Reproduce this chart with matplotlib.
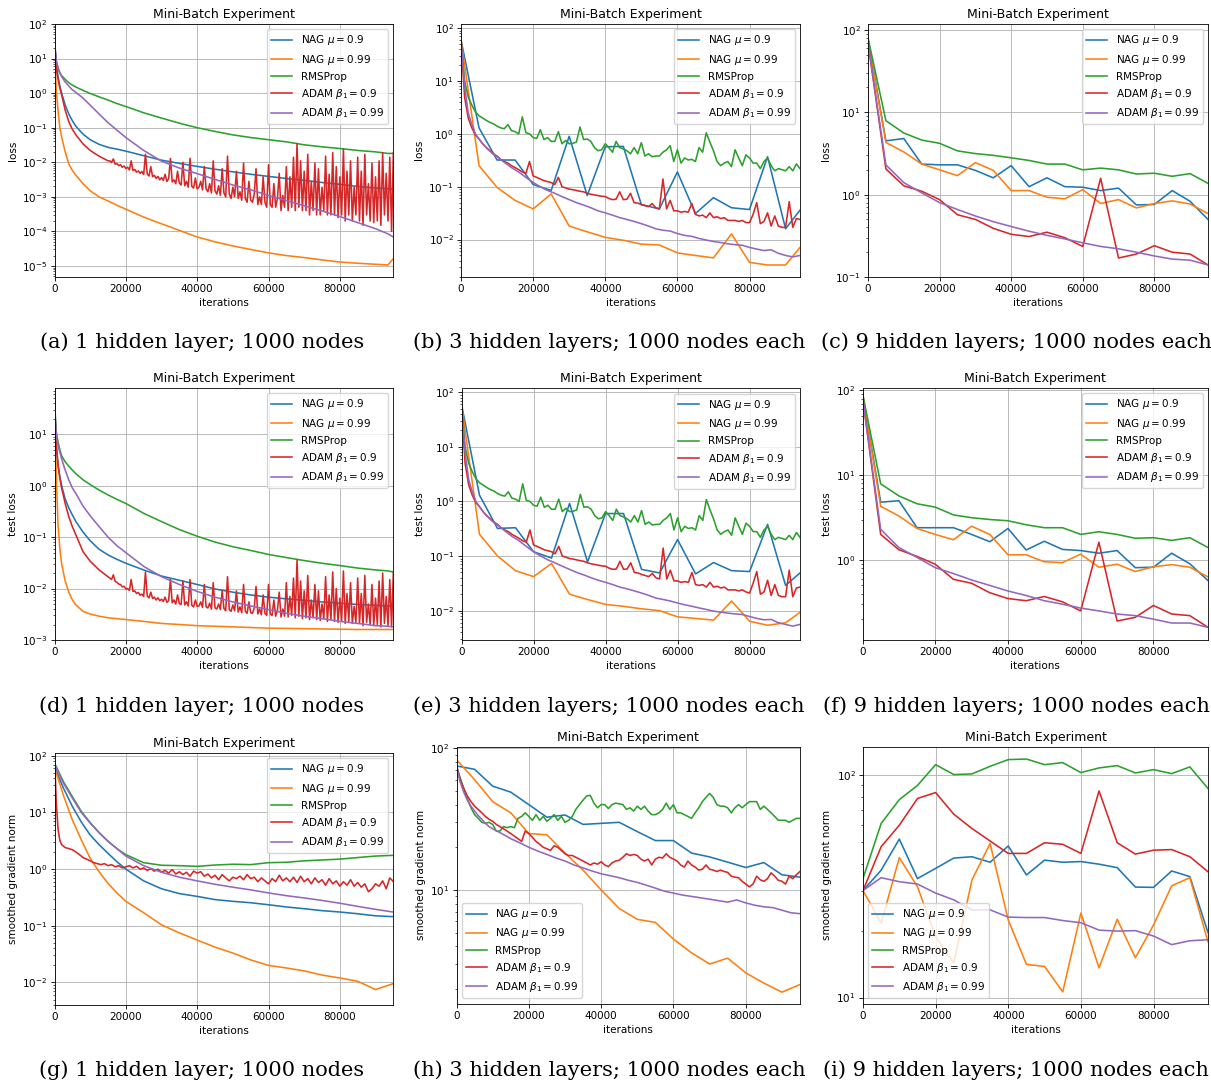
import numpy as np
import matplotlib
matplotlib.use('Agg')
import matplotlib.pyplot as plt

# ---------------- data ----------------
LABELS = [r'NAG $\mu=0.9$', r'NAG $\mu=0.99$', 'RMSProp', r'ADAM $\beta_1=0.9$', r'ADAM $\beta_1=0.99$']
COLORS = ['#1f77b4', '#ff7f0e', '#2ca02c', '#d62728', '#9467bd']

CAPTIONS = ['(a) 1 hidden layer; 1000 nodes', '(b) 3 hidden layers; 1000 nodes each',
            '(c) 9 hidden layers; 1000 nodes each',
            '(d) 1 hidden layer; 1000 nodes', '(e) 3 hidden layers; 1000 nodes each',
            '(f) 9 hidden layers; 1000 nodes each',
            '(g) 1 hidden layer; 1000 nodes', '(h) 3 hidden layers; 1000 nodes each',
            '(i) 9 hidden layers; 1000 nodes each']

# ---- (a) 1 hidden layer, training loss
A_X = [0, 250, 500, 1000, 1500, 2000, 3000, 4000, 5000, 6000, 8000, 10000, 12500, 15000, 17500,
       20000, 25000, 30000, 35000, 40000, 45000, 50000, 55000, 60000, 65000, 70000, 75000, 80000,
       85000, 90000, 93500, 94900]
A_NAG9 = [40, 15, 7, 3, 1.6, 1.0, 0.45, 0.25, 0.16, 0.11, 0.065, 0.045, 0.033, 0.027, 0.024, 0.021,
          0.0155, 0.0115, 0.0093, 0.0076, 0.0063, 0.0053, 0.0045, 0.0039, 0.0034, 0.003, 0.0026,
          0.0023, 0.002, 0.0018, 0.00172, 0.0017]
A_NAG99 = [40, 5, 1.2, 0.3, 0.1, 0.054, 0.02, 0.009, 0.0058, 0.0042, 0.0024, 0.0015, 0.001, 0.00076,
           0.00057, 0.00044, 0.00026, 0.000166, 0.000107, 6.9e-5, 5.0e-5, 3.8e-5, 3.0e-5, 2.4e-5,
           2.0e-5, 1.75e-5, 1.5e-5, 1.3e-5, 1.2e-5, 1.12e-5, 1.07e-5, 1.6e-5]
A_RMS = [40, 15, 8, 5, 3.8, 3.2, 2.5, 2.0, 1.7, 1.5, 1.2, 0.98, 0.78, 0.63, 0.5, 0.41, 0.27, 0.19,
         0.135, 0.1, 0.078, 0.062, 0.052, 0.045, 0.039, 0.032, 0.028, 0.025, 0.022, 0.02, 0.018, 0.018]
A_ADAM99 = [40, 15, 9, 5.5, 4.0, 3.0, 2.1, 1.6, 1.25, 1.05, 0.72, 0.45, 0.25, 0.14, 0.085, 0.052,
            0.022, 0.0108, 0.0068, 0.0047, 0.0032, 0.0022, 0.0016, 0.0011, 0.00078, 0.00055, 0.00039,
            0.00027, 0.00018, 0.00012, 8.5e-5, 7e-5]
A_ADAM9_X0 = [0, 250, 500, 1000, 1500, 2000, 3000, 4000, 5000, 6000, 8000, 10000, 12500, 15000]
A_ADAM9_Y0 = [40, 12, 5, 2.5, 1.4, 0.9, 0.32, 0.15, 0.09, 0.062, 0.034, 0.022, 0.015, 0.011]
# sampled every 500 iterations from 15500
A_ADAM9_NOISY = [
    0.0110, 0.0098, 0.0125, 0.0088, 0.0092, 0.0080, 0.0085, 0.0072, 0.0078, 0.0066,
    0.0072, 0.0060, 0.0110, 0.0058, 0.0062, 0.0052, 0.0056, 0.0048, 0.0054, 0.0044,
    0.0170, 0.0046, 0.0040, 0.0075, 0.0038, 0.0042, 0.0034, 0.0039, 0.0031, 0.0036,
    0.0030, 0.0045, 0.0028, 0.0033, 0.0130, 0.0027, 0.0031, 0.0024, 0.0055, 0.0025,
    0.0022, 0.0100, 0.0021, 0.0028, 0.0019, 0.0130, 0.0020, 0.0018, 0.0035, 0.0017,
    0.0019, 0.0028, 0.0016, 0.0075, 0.0017, 0.0014, 0.0024, 0.0013, 0.0110, 0.0015,
    0.0012, 0.0021, 0.0011, 0.0065, 0.0013, 0.0010, 0.0150, 0.0012, 0.0009, 0.0019,
    0.0010, 0.0055, 0.0009, 0.0014, 0.0008, 0.0095, 0.0009, 0.0007, 0.0028, 0.0008,
    0.0007, 0.0012, 0.0065, 0.0006, 0.0010, 0.0006, 0.0038, 0.0007, 0.0005, 0.0085,
    0.0006, 0.0005, 0.0024, 0.0005, 0.0009, 0.0048, 0.0004, 0.0011, 0.0005, 0.0075,
    0.0004, 0.0038, 0.0005, 0.0140, 0.0004, 0.0350, 0.0005, 0.0110, 0.0004, 0.0055,
    0.0004, 0.0170, 0.0003, 0.0028, 0.0004, 0.0095, 0.0003, 0.0065, 0.0003, 0.0019,
    0.0004, 0.0150, 0.0003, 0.0045, 0.0003, 0.0190, 0.0003, 0.0075, 0.00025, 0.0038,
    0.0003, 0.0240, 0.0002, 0.0055, 0.0003, 0.0110, 0.0002, 0.0019, 0.0003, 0.0140,
    0.0002, 0.0055, 0.00015, 0.0170, 0.0003, 0.0024, 0.0002, 0.0095, 0.00018, 0.0038,
    0.0002, 0.0110, 0.00015, 0.0190, 0.0003, 0.0048, 0.0002, 0.0140, 0.0001, 0.0190]

# ---- (d) 1 hidden layer, test loss
D_X = A_X
D_NAG9 = [60, 15, 6, 2.5, 1.5, 1.0, 0.55, 0.37, 0.27, 0.2, 0.125, 0.085, 0.058, 0.045, 0.037, 0.031,
          0.023, 0.0175, 0.0145, 0.012, 0.0098, 0.0085, 0.0075, 0.0068, 0.0063, 0.0059, 0.0055,
          0.0052, 0.0049, 0.0047, 0.0046, 0.0045]
D_NAG99 = [60, 8, 1.5, 0.17, 0.06, 0.03, 0.014, 0.0085, 0.006, 0.0048, 0.0036, 0.0032, 0.0029,
           0.0027, 0.0026, 0.0025, 0.0023, 0.0021, 0.002, 0.0019, 0.00185, 0.0018, 0.00175, 0.0017,
           0.00168, 0.00166, 0.00164, 0.00162, 0.0016, 0.0016, 0.0016, 0.0016]
D_RMS = [60, 20, 11, 7, 5, 3.8, 2.9, 2.4, 2.0, 1.7, 1.3, 1.05, 0.82, 0.66, 0.54, 0.45, 0.29, 0.2,
         0.14, 0.104, 0.08, 0.065, 0.055, 0.046, 0.04, 0.035, 0.031, 0.028, 0.025, 0.023, 0.022, 0.021]
D_ADAM99 = [60, 20, 10, 6, 4.5, 3.3, 2.0, 1.3, 0.9, 0.7, 0.4, 0.26, 0.16, 0.1, 0.068, 0.05, 0.027,
            0.017, 0.012, 0.0088, 0.0068, 0.0055, 0.0046, 0.0039, 0.0033, 0.0029, 0.0026, 0.0023,
            0.0021, 0.0019, 0.00185, 0.0018]
D_ADAM9_X0 = [0, 250, 500, 1000, 1500, 2000, 3000, 4000, 5000, 6000, 8000, 10000, 12500, 15000]
D_ADAM9_Y0 = [60, 15, 6, 2.5, 1.4, 0.9, 0.45, 0.25, 0.16, 0.11, 0.052, 0.034, 0.023, 0.017]
D_ADAM9_NOISY = [
    0.0160, 0.0150, 0.0185, 0.0138, 0.0132, 0.0122, 0.0120, 0.0108, 0.0110, 0.0098,
    0.0100, 0.0092, 0.0150, 0.0088, 0.0090, 0.0080, 0.0084, 0.0074, 0.0078, 0.0070,
    0.0210, 0.0072, 0.0066, 0.0085, 0.0064, 0.0068, 0.0060, 0.0066, 0.0058, 0.0062,
    0.0056, 0.0068, 0.0054, 0.0058, 0.0150, 0.0053, 0.0060, 0.0050, 0.0075, 0.0051,
    0.0049, 0.0140, 0.0048, 0.0055, 0.0046, 0.0150, 0.0047, 0.0044, 0.0060, 0.0045,
    0.0046, 0.0055, 0.0043, 0.0120, 0.0044, 0.0042, 0.0052, 0.0040, 0.0130, 0.0042,
    0.0040, 0.0050, 0.0039, 0.0090, 0.0041, 0.0037, 0.0170, 0.0039, 0.0036, 0.0048,
    0.0037, 0.0090, 0.0035, 0.0044, 0.0034, 0.0120, 0.0036, 0.0033, 0.0055, 0.0034,
    0.0033, 0.0042, 0.0110, 0.0032, 0.0040, 0.0031, 0.0075, 0.0033, 0.0030, 0.0120,
    0.0032, 0.0030, 0.0060, 0.0029, 0.0038, 0.0085, 0.0028, 0.0040, 0.0029, 0.0130,
    0.0028, 0.0070, 0.0030, 0.0160, 0.0027, 0.0360, 0.0029, 0.0140, 0.0026, 0.0090,
    0.0027, 0.0180, 0.0025, 0.0060, 0.0027, 0.0120, 0.0025, 0.0090, 0.0024, 0.0050,
    0.0026, 0.0170, 0.0023, 0.0075, 0.0025, 0.0210, 0.0023, 0.0100, 0.0022, 0.0065,
    0.0024, 0.0220, 0.0021, 0.0080, 0.0023, 0.0130, 0.0021, 0.0045, 0.0022, 0.0160,
    0.0021, 0.0080, 0.0019, 0.0180, 0.0022, 0.0050, 0.0020, 0.0120, 0.0019, 0.0065,
    0.0020, 0.0140, 0.0018, 0.0200, 0.0021, 0.0070, 0.0019, 0.0150, 0.0018, 0.0210]

# ---- (g) 1 hidden layer, smoothed gradient norm
G_X = [0, 1000, 2500, 5000, 7500, 10000, 12500, 15000, 17500, 20000, 25000, 30000, 35000, 40000,
       45000, 50000, 55000, 60000, 65000, 70000, 75000, 80000, 85000, 90000, 94900]
G_NAG9 = [65, 45, 27, 12.8, 6.8, 4.0, 2.7, 1.9, 1.35, 1.0, 0.62, 0.45, 0.37, 0.33, 0.29, 0.27, 0.255,
          0.235, 0.215, 0.2, 0.185, 0.175, 0.163, 0.15, 0.145]
G_NAG99 = [60, 40, 20, 7.4, 3.3, 1.55, 0.9, 0.56, 0.38, 0.27, 0.17, 0.104, 0.075, 0.056, 0.042, 0.033,
           0.025, 0.02, 0.018, 0.016, 0.0135, 0.012, 0.0105, 0.0075, 0.0095]
G_RMS = [75, 55, 35, 19, 10.5, 6.6, 4.4, 3.1, 2.3, 1.8, 1.3, 1.17, 1.15, 1.12, 1.18, 1.22, 1.2, 1.3,
         1.32, 1.4, 1.45, 1.5, 1.6, 1.7, 1.75]
G_ADAM99 = [70, 52, 33, 18, 10, 6.5, 4.4, 3.1, 2.3, 1.7, 1.15, 0.88, 0.72, 0.62, 0.54, 0.48, 0.43,
            0.38, 0.34, 0.31, 0.28, 0.25, 0.22, 0.195, 0.175]
G_ADAM9_X0 = [0, 250, 500, 1000, 1500, 2000, 3000, 4000]
G_ADAM9_Y0 = [70, 40, 15, 5, 3.2, 2.7, 2.4, 2.3]
# sampled every 1000 iterations from 5000
G_ADAM9_NOISY = [
    2.2, 2.0, 1.8, 1.6, 1.5, 1.4, 1.3, 1.25, 1.2, 1.25,
    1.15, 1.2, 1.1, 1.15, 1.05, 1.1, 1.15, 1.05, 1.12, 1.0,
    1.05, 0.95, 1.02, 0.92, 1.0, 0.88, 0.95, 0.85, 0.98, 0.82,
    0.9, 0.8, 0.88, 0.75, 0.92, 0.85, 0.9, 0.75, 0.82, 0.7,
    0.78, 0.65, 0.8, 0.7, 0.62, 0.72, 0.68, 0.75, 0.65, 0.8,
    0.68, 0.72, 0.6, 0.7, 0.62, 0.55, 0.68, 0.6, 0.78, 0.62,
    0.7, 0.6, 0.72, 0.58, 0.75, 0.6, 0.68, 0.55, 0.7, 0.58,
    0.65, 0.52, 0.68, 0.55, 0.62, 0.5, 0.6, 0.52, 0.65, 0.5,
    0.58, 0.48, 0.55, 0.4, 0.45, 0.55, 0.5, 0.62, 0.45, 0.7, 0.6]

# ---- (b) 3 hidden layers, training loss
B_X5 = [0, 5000, 10000, 15000, 20000, 25000, 30000, 35000, 40000, 45000, 50000, 55000, 60000,
        65000, 70000, 75000, 80000, 85000, 90000, 94000]
B_NAG9 = [60, 1.3, 0.32, 0.32, 0.11, 0.085, 0.9, 0.068, 0.57, 0.58, 0.046, 0.038, 0.19, 0.031,
          0.062, 0.04, 0.037, 0.37, 0.016, 0.036]
B_NAG99 = [60, 0.25, 0.097, 0.055, 0.038, 0.073, 0.018, 0.014, 0.011, 0.0097, 0.0082, 0.0079,
           0.0056, 0.005, 0.0045, 0.0128, 0.0037, 0.0033, 0.0033, 0.0071]
# sampled every 1000 iterations
B_RMS = [60, 10, 5, 3.5, 2.6, 2.2, 2.0, 1.8, 1.65, 1.55,
         1.4, 1.3, 1.25, 1.5, 1.15, 1.1, 1.0, 2.1, 1.05, 1.0,
         0.85, 0.82, 1.2, 0.78, 0.85, 0.72, 0.72, 1.1, 0.65, 0.75,
         0.65, 0.66, 0.7, 1.35, 0.78, 0.8, 0.72, 0.55, 0.48, 0.5,
         0.65, 0.55, 0.45, 0.72, 0.55, 0.52, 0.48, 0.42, 0.55, 0.42,
         0.68, 0.38, 0.42, 0.37, 0.38, 0.38, 0.45, 0.5, 0.6, 0.3,
         0.5, 0.28, 0.35, 0.32, 0.33, 0.3, 0.55, 0.45, 1.05, 0.7,
         0.48, 0.3, 0.25, 0.28, 0.3, 0.24, 0.5, 0.35, 0.25, 0.4,
         0.35, 0.28, 0.28, 0.22, 0.3, 0.35, 0.25, 0.2, 0.22, 0.21,
         0.2, 0.24, 0.2, 0.27, 0.22]
B_ADAM9 = [60, 5, 2.0, 1.3, 0.95, 0.8, 0.65, 0.55, 0.48, 0.42,
           0.38, 0.33, 0.3, 0.28, 0.25, 0.23, 0.21, 0.19, 0.18, 0.3,
           0.16, 0.15, 0.14, 0.13, 0.125, 0.12, 0.11, 0.15, 0.1, 0.095,
           0.09, 0.088, 0.085, 0.082, 0.08, 0.075, 0.072, 0.07, 0.068, 0.066,
           0.065, 0.06, 0.057, 0.058, 0.08, 0.057, 0.058, 0.075, 0.05, 0.049,
           0.046, 0.044, 0.042, 0.048, 0.04, 0.038, 0.14, 0.038, 0.055, 0.035,
           0.035, 0.033, 0.034, 0.033, 0.048, 0.03, 0.028, 0.029, 0.026, 0.032,
           0.026, 0.027, 0.025, 0.026, 0.023, 0.023, 0.023, 0.022, 0.023, 0.021,
           0.021, 0.03, 0.05, 0.02, 0.022, 0.032, 0.018, 0.028, 0.018, 0.017,
           0.017, 0.052, 0.017, 0.025, 0.024]
B_XP = [0, 1000, 2000, 3000, 4000, 5000, 6000, 7000, 8000, 9000, 10000,
        12000, 14000, 16000, 18000, 20000, 22000, 24000, 26000, 28000, 30000,
        32000, 34000, 36000, 38000, 40000, 42000, 44000, 46000, 48000, 50000,
        52000, 54000, 56000, 58000, 60000, 62000, 64000, 66000, 68000, 70000,
        72000, 74000, 76000, 78000, 80000, 82000, 84000, 86000, 88000, 90000, 92000, 94000]
B_ADAM99 = [60, 8, 2.5, 1.5, 1.0, 0.8, 0.65, 0.55, 0.47, 0.41, 0.37,
            0.29, 0.23, 0.19, 0.15, 0.12, 0.1, 0.085, 0.075, 0.065, 0.057,
            0.05, 0.045, 0.04, 0.035, 0.032, 0.029, 0.026, 0.024, 0.022, 0.02,
            0.018, 0.016, 0.015, 0.0145, 0.013, 0.012, 0.0115, 0.0105, 0.0098, 0.0092,
            0.0088, 0.0083, 0.008, 0.0078, 0.0071, 0.0066, 0.0062, 0.0064, 0.0055, 0.005, 0.0047, 0.005]

# ---- (e) 3 hidden layers, test loss
E_X5 = B_X5
E_NAG9 = [60, 1.3, 0.32, 0.33, 0.12, 0.092, 0.92, 0.078, 0.6, 0.6, 0.057, 0.049, 0.2, 0.047, 0.076,
          0.054, 0.052, 0.38, 0.029, 0.049]
E_NAG99 = [60, 0.25, 0.1, 0.054, 0.042, 0.073, 0.02, 0.016, 0.013, 0.012, 0.0108, 0.01, 0.0077,
           0.0072, 0.0067, 0.015, 0.0064, 0.0054, 0.006, 0.0093]
E_RMS = [60, 10, 5, 3.5, 2.6, 2.2, 2.0, 1.8, 1.65, 1.55,
         1.4, 1.3, 1.25, 1.5, 1.15, 1.1, 1.0, 2.1, 1.05, 1.0,
         0.85, 0.82, 1.2, 0.78, 0.85, 0.72, 0.72, 1.1, 0.65, 0.75,
         0.65, 0.66, 0.7, 1.35, 0.78, 0.8, 0.72, 0.55, 0.48, 0.5,
         0.65, 0.55, 0.45, 0.72, 0.55, 0.52, 0.48, 0.42, 0.55, 0.42,
         0.68, 0.38, 0.42, 0.37, 0.38, 0.38, 0.45, 0.5, 0.6, 0.3,
         0.5, 0.28, 0.35, 0.32, 0.33, 0.3, 0.55, 0.45, 1.08, 0.7,
         0.48, 0.3, 0.25, 0.28, 0.3, 0.24, 0.5, 0.35, 0.25, 0.4,
         0.35, 0.28, 0.28, 0.22, 0.3, 0.35, 0.25, 0.2, 0.22, 0.21,
         0.2, 0.24, 0.2, 0.27, 0.22]
E_ADAM9 = [60, 5, 2.0, 1.3, 0.95, 0.8, 0.65, 0.55, 0.48, 0.42,
           0.38, 0.33, 0.3, 0.28, 0.25, 0.23, 0.21, 0.19, 0.18, 0.3,
           0.16, 0.15, 0.14, 0.13, 0.125, 0.12, 0.11, 0.15, 0.1, 0.095,
           0.09, 0.088, 0.085, 0.082, 0.08, 0.075, 0.072, 0.07, 0.068, 0.066,
           0.065, 0.06, 0.057, 0.058, 0.08, 0.057, 0.058, 0.075, 0.05, 0.049,
           0.046, 0.044, 0.042, 0.048, 0.04, 0.038, 0.14, 0.038, 0.055, 0.035,
           0.035, 0.033, 0.034, 0.033, 0.05, 0.03, 0.029, 0.03, 0.027, 0.033,
           0.027, 0.028, 0.026, 0.027, 0.024, 0.024, 0.024, 0.023, 0.024, 0.022,
           0.021, 0.032, 0.052, 0.02, 0.022, 0.036, 0.019, 0.03, 0.019, 0.018,
           0.018, 0.055, 0.018, 0.026, 0.027]
E_XP = B_XP
E_ADAM99 = [60, 8, 2.5, 1.5, 1.0, 0.8, 0.65, 0.55, 0.47, 0.41, 0.37,
            0.29, 0.23, 0.19, 0.15, 0.12, 0.1, 0.085, 0.075, 0.065, 0.057,
            0.05, 0.045, 0.04, 0.036, 0.033, 0.03, 0.027, 0.025, 0.023, 0.021,
            0.019, 0.017, 0.016, 0.015, 0.0138, 0.0128, 0.012, 0.0112, 0.0105, 0.0098,
            0.0094, 0.009, 0.0087, 0.0085, 0.0078, 0.0072, 0.0068, 0.0069, 0.006, 0.0056, 0.0052, 0.0056]

# ---- (c) 9 hidden layers, training loss
C_X = [0, 5000, 10000, 15000, 20000, 25000, 30000, 35000, 40000, 45000, 50000, 55000, 60000,
       65000, 70000, 75000, 80000, 85000, 90000, 95000]
C_NAG9 = [79, 4.5, 4.8, 2.35, 2.3, 2.3, 1.97, 1.6, 2.25, 1.25, 1.6, 1.25, 1.23, 1.12, 1.2, 0.75,
          0.76, 1.12, 0.83, 0.5]
C_NAG99 = [75, 4.3, 3.3, 2.35, 2.0, 1.7, 2.45, 1.97, 1.12, 1.12, 0.93, 0.89, 1.15, 0.78, 0.87,
           0.69, 0.78, 0.84, 0.77, 0.59]
C_RMS = [80, 7.9, 5.6, 4.6, 4.2, 3.4, 3.15, 3.0, 2.8, 2.6, 2.35, 2.35, 2.0, 2.1, 2.0, 1.78, 1.82,
         1.67, 1.8, 1.37]
C_ADAM9 = [70, 2.05, 1.28, 1.1, 0.87, 0.57, 0.5, 0.39, 0.33, 0.31, 0.35, 0.3, 0.235, 1.58, 0.17,
           0.19, 0.24, 0.2, 0.19, 0.14]
C_ADAM99 = [70, 2.3, 1.4, 1.05, 0.8, 0.66, 0.55, 0.47, 0.41, 0.36, 0.32, 0.29, 0.26, 0.235, 0.22,
            0.2, 0.18, 0.165, 0.16, 0.14]

# ---- (f) 9 hidden layers, test loss
F_X = C_X
F_NAG9 = [93, 4.8, 5.0, 2.4, 2.4, 2.4, 2.0, 1.64, 2.35, 1.31, 1.66, 1.33, 1.29, 1.2, 1.29, 0.81,
          0.82, 1.2, 0.9, 0.57]
F_NAG99 = [93, 4.3, 3.3, 2.35, 2.0, 1.73, 2.5, 2.0, 1.15, 1.15, 0.95, 0.93, 1.17, 0.82, 0.89, 0.73,
           0.83, 0.88, 0.82, 0.63]
F_RMS = [93, 7.9, 5.7, 4.6, 4.2, 3.4, 3.15, 3.0, 2.9, 2.6, 2.4, 2.4, 2.0, 2.15, 2.0, 1.8, 1.83, 1.7,
         1.83, 1.4]
F_ADAM9 = [85, 2.0, 1.32, 1.1, 0.89, 0.59, 0.53, 0.41, 0.35, 0.33, 0.37, 0.32, 0.25, 1.62, 0.19,
           0.21, 0.29, 0.23, 0.22, 0.16]
F_ADAM99 = [85, 2.3, 1.4, 1.07, 0.81, 0.69, 0.58, 0.5, 0.43, 0.38, 0.33, 0.3, 0.27, 0.25, 0.23,
            0.22, 0.2, 0.18, 0.18, 0.16]

# ---- (h) 3 hidden layers, smoothed gradient norm
H_X5 = C_X
H_NAG9 = [75, 71, 54, 49, 40, 32.6, 33.8, 29, 29.5, 30, 25.8, 22.3, 22.3, 18.2, 17.1, 15.7, 14.4,
          15.6, 12.8, 12.3]
H_NAG99 = [83, 60, 42, 35, 25, 24.5, 18.2, 13.8, 10, 7.4, 6.2, 5.9, 4.5, 3.6, 3.0, 3.3, 2.6, 2.2,
           1.9, 2.15]
# sampled every 1000 iterations
H_RMS = [75, 62, 52, 44, 38, 34, 32, 30, 29.5, 30,
         29, 26, 26, 28, 27.5, 28, 27.5, 32, 33, 35,
         33, 31, 34, 31, 33, 30.5, 32, 34, 31, 33,
         30, 31, 33, 37, 40, 43, 46, 46.5, 41, 38,
         40, 40, 37.5, 40, 41, 40.5, 40, 37, 38, 36,
         39, 37, 39, 36, 34, 34, 35, 37, 41, 37,
         40, 35, 35, 34, 33, 32, 35, 38, 42, 45,
         48, 45, 40, 39, 39, 38, 35, 38, 40, 38,
         40, 42, 42, 42, 37, 39, 37, 35, 33, 31,
         31, 31, 30, 31, 32, 32]
H_ADAM9 = [75, 60, 52, 46, 42, 39, 37, 35, 33, 31.5,
           30.5, 29, 28, 27, 26, 25, 24, 23, 22, 26,
           25, 23.5, 22, 21, 20, 19.5, 19, 20.5, 20, 19,
           18, 17.5, 17.5, 17, 16.5, 16, 15.5, 15, 15.5, 15.2,
           15.8, 15, 14.6, 15.5, 16, 16.2, 17, 18, 17.5, 17.8,
           17.5, 16.5, 16, 16.5, 15, 16.5, 17, 16.8, 18, 17,
           16.5, 16, 15, 14.5, 16, 15, 14.5, 13.8, 14, 15,
           14, 13.8, 13.5, 13.8, 13.5, 13.3, 12.5, 12.3, 12.2, 11.5,
           11, 10.5, 11, 12.5, 11.8, 11.5, 12, 13.2, 12.5, 11.7,
           11.5, 11, 12.5, 12, 12.8, 13.5]
H_XP = [0, 1000, 2000, 3000, 4000, 5000, 6000, 7000, 8000, 9000, 10000,
        12500, 15000, 17500, 20000, 22500, 25000, 27500, 30000, 32500, 35000,
        37500, 40000, 42500, 45000, 47500, 50000, 52500, 55000, 57500, 60000,
        62500, 65000, 67500, 70000, 72500, 75000, 77500, 80000, 82500, 85000,
        87500, 90000, 92500, 95000]
H_ADAM99 = [75, 58, 49, 43, 39, 36, 33.5, 31.5, 29.5, 28, 27,
            25, 23, 21.5, 20, 18.8, 17.8, 16.8, 16, 15, 14.3,
            13.6, 13, 12.6, 12.2, 11.7, 11.3, 10.8, 10.3, 9.8, 9.5,
            9.2, 9.0, 8.8, 8.6, 8.4, 8.2, 8.5, 8.1, 7.8, 7.6,
            7.5, 7.2, 6.9, 6.8]

# ---- (i) 9 hidden layers, smoothed gradient norm
I_X = C_X
I_NAG9 = [30.3, 37.4, 51.6, 34.3, 38.1, 42.4, 43, 40.6, 48.1, 35.6, 41.5, 40.6, 40.9, 39.8, 38.4,
          31.4, 31.3, 37.1, 35, 19.6]
I_NAG99 = [30.3, 21.6, 42.6, 31.5, 18.8, 14.3, 33.8, 49.3, 22.3, 14.1, 13.8, 10.6, 24, 13.6, 22.5,
           15.1, 21.2, 31.8, 34.6, 17.8]
I_RMS = [34.3, 60.7, 77.7, 90, 111.6, 100.7, 101.4, 109.7, 117.6, 118.3, 111.6, 114, 102.8, 107.9,
         110.5, 102.4, 106, 101.7, 109, 87.2]
I_ADAM9 = [30.3, 47.7, 59.6, 78.6, 83.6, 66.8, 57.6, 50.6, 44.5, 44.5, 49.7, 48.9, 44.5, 85, 49.7,
           44.2, 46, 46.3, 43, 36.8]
I_ADAM99 = [30.3, 34.6, 33.2, 32.4, 29.5, 27.5, 24.8, 24.8, 23, 22.9, 22.9, 22.2, 21.7, 20.1, 19.9,
            20, 18.9, 17.3, 18, 18.2]

# ---------------- style ----------------
plt.rcParams.update({
    'font.family': 'DejaVu Sans',
    'font.size': 7.5,
    'axes.titlesize': 9,
    'axes.labelsize': 7.5,
    'xtick.labelsize': 7.5,
    'ytick.labelsize': 7.5,
    'legend.fontsize': 7.5,
    'lines.linewidth': 1.15,
    'axes.linewidth': 0.6,
    'grid.linewidth': 0.6,
    'grid.color': '#b0b0b0',
    'xtick.major.size': 2.6, 'ytick.major.size': 2.6,
    'xtick.minor.size': 1.5, 'ytick.minor.size': 1.5,
    'xtick.major.width': 0.6, 'ytick.major.width': 0.6,
    'xtick.minor.width': 0.45, 'ytick.minor.width': 0.45,
    'xtick.major.pad': 2.6, 'ytick.major.pad': 2.6,
    'axes.titlepad': 4.5,
    'axes.labelpad': 3.0,
})

W, H = 1211, 1082
fig = plt.figure(figsize=(W / 100, H / 100), dpi=100)


def add_ax(l, t, r, b):
    return fig.add_axes([l / W, 1 - b / H, (r - l) / W, (b - t) / H])


def panel(box, series, ylabel, xlim, ylim, loc):
    ax = add_ax(*box)
    for (x, y), c, lab in zip(series, COLORS, LABELS):
        ax.plot(x, y, color=c, label=lab)
    ax.set_yscale('log')
    ax.set_xlim(*xlim)
    ax.set_ylim(*ylim)
    ax.grid(True, which='major')
    ax.set_axisbelow(True)
    ax.set_title('Mini-Batch Experiment')
    ax.set_xlabel('iterations')
    ax.set_ylabel(ylabel)
    ax.legend(loc=loc)
    return ax


a_red_x = A_ADAM9_X0 + list(15500 + 500 * np.arange(len(A_ADAM9_NOISY)))
a_red_y = A_ADAM9_Y0 + A_ADAM9_NOISY
d_red_x = D_ADAM9_X0 + list(15500 + 500 * np.arange(len(D_ADAM9_NOISY)))
d_red_y = D_ADAM9_Y0 + D_ADAM9_NOISY
g_red_x = G_ADAM9_X0 + list(5000 + 1000 * np.arange(len(G_ADAM9_NOISY)))
g_red_y = G_ADAM9_Y0 + G_ADAM9_NOISY

panel((54.5, 24, 393, 277),
      [(A_X, A_NAG9), (A_X, A_NAG99), (A_X, A_RMS), (a_red_x, a_red_y), (A_X, A_ADAM99)],
      'loss', (0, 94900), (4.8e-6, 100), 'upper right')
panel((461, 24, 800, 276.5),
      [(B_X5, B_NAG9), (B_X5, B_NAG99), (1000 * np.arange(len(B_RMS)), B_RMS),
       (1000 * np.arange(len(B_ADAM9)), B_ADAM9), (B_XP, B_ADAM99)],
      'loss', (0, 94000), (0.002, 120), 'upper right')
panel((868, 24, 1208, 277),
      [(C_X, C_NAG9), (C_X, C_NAG99), (C_X, C_RMS), (C_X, C_ADAM9), (C_X, C_ADAM99)],
      'loss', (0, 95000), (0.1, 118), 'upper right')

panel((54.5, 388, 393, 640),
      [(D_X, D_NAG9), (D_X, D_NAG99), (D_X, D_RMS), (d_red_x, d_red_y), (D_X, D_ADAM99)],
      'test loss', (0, 94900), (1e-3, 79), 'upper right')
panel((461.5, 388.5, 800, 640),
      [(E_X5, E_NAG9), (E_X5, E_NAG99), (1000 * np.arange(len(E_RMS)), E_RMS),
       (1000 * np.arange(len(E_ADAM9)), E_ADAM9), (E_XP, E_ADAM99)],
      'test loss', (0, 94000), (0.0029, 117), 'upper right')
panel((862.5, 388, 1208, 639.5),
      [(F_X, F_NAG9), (F_X, F_NAG99), (F_X, F_RMS), (F_X, F_ADAM9), (F_X, F_ADAM99)],
      'test loss', (0, 95000), (0.115, 107), 'upper right')

panel((54.5, 753, 393, 1005),
      [(G_X, G_NAG9), (G_X, G_NAG99), (G_X, G_RMS), (g_red_x, g_red_y), (G_X, G_ADAM99)],
      'smoothed gradient norm', (0, 94900), (0.004, 112), 'upper right')
panel((456.5, 747, 800, 1003.5),
      [(H_X5, H_NAG9), (H_X5, H_NAG99), (1000 * np.arange(len(H_RMS)), H_RMS),
       (1000 * np.arange(len(H_ADAM9)), H_ADAM9), (H_XP, H_ADAM99)],
      'smoothed gradient norm', (0, 95000), (1.58, 102), 'lower left')
panel((863, 747, 1208, 1003.5),
      [(I_X, I_NAG9), (I_X, I_NAG99), (I_X, I_RMS), (I_X, I_ADAM9), (I_X, I_ADAM99)],
      'smoothed gradient norm', (0, 95000), (9.4, 134), 'lower left')

cap_x = [202, 609, 1016]
cap_y = [342, 706, 1070]
for k, cap in enumerate(CAPTIONS):
    fig.text(cap_x[k % 3] / W, 1 - cap_y[k // 3] / H, cap, ha='center', va='center',
             family='DejaVu Serif', fontsize=15)

fig.savefig('out.png', dpi=100)
